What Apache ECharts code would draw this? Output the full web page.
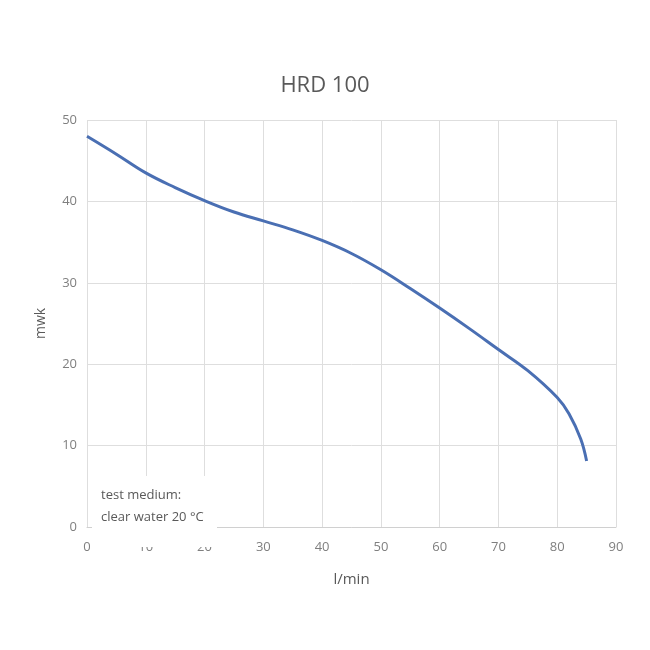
<!DOCTYPE html>
<html>
<head>
<meta charset="utf-8">
<script src="https://cdn.jsdelivr.net/npm/echarts@6/dist/echarts.min.js"></script>
<style>html,body{margin:0;padding:0;background:#fff}#c{width:650px;height:650px}</style>
</head>
<body>
<div id="c"></div>
<script>
var titleText = 'HRD 100';
var xName = 'l/min';
var yName = 'mwk';
var flow = [0, 5, 10, 15, 20, 25, 30, 35, 40, 45, 50, 55, 60, 65, 70, 75, 80, 82, 84, 85];
var head = [48, 45.8, 43.5, 41.7, 40.1, 38.7, 37.6, 36.5, 35.2, 33.6, 31.6, 29.3, 26.9, 24.4, 21.8, 19.2, 15.9, 13.9, 10.8, 8.1];
var noteLines = ['test medium:', 'clear water 20 °C'];

var pts = flow.map(function (f, i) { return [f, head[i]]; });
var font = '"Open Sans", "Noto Sans", sans-serif';
var chart = echarts.init(document.getElementById('c'));
chart.setOption({
  animation: false,
  backgroundColor: '#fff',
  title: {
    text: titleText, left: 'center', top: 70,
    textStyle: { fontFamily: font, fontSize: 22, fontWeight: 'normal', color: '#595959' }
  },
  grid: { left: 87, right: 34, top: 120, bottom: 123 },
  xAxis: {
    type: 'value', min: 0, max: 90, interval: 10,
    name: xName, nameLocation: 'middle', nameGap: 45,
    nameTextStyle: { fontFamily: font, fontSize: 15, color: '#595959' },
    axisLine: { show: true, lineStyle: { color: '#d0d0d0', width: 1 } },
    axisTick: { show: false },
    axisLabel: { fontFamily: font, fontSize: 13, color: '#7f7f7f', margin: 14 },
    splitLine: { show: true, lineStyle: { color: '#dedede', width: 1 } }
  },
  yAxis: {
    type: 'value', min: 0, max: 50, interval: 10,
    name: yName, nameLocation: 'middle', nameGap: 39, nameRotate: 90,
    nameTextStyle: { fontFamily: font, fontSize: 14, color: '#595959' },
    axisLine: { show: false },
    axisTick: { show: false },
    axisLabel: { fontFamily: font, fontSize: 13, color: '#7f7f7f', margin: 10 },
    splitLine: { show: true, lineStyle: { color: '#dedede', width: 1 } }
  },
  series: [{
    type: 'line', data: pts, smooth: 0.4, showSymbol: false, symbol: 'none',
    lineStyle: { color: '#4a6fb3', width: 3 }, z: 3
  }],
  graphic: [
    { type: 'rect', z: 100, shape: { x: 92, y: 476, width: 125, height: 71 }, style: { fill: '#fff' } },
    { type: 'text', z: 101, x: 101, y: 484, style: { text: noteLines.join('\n'), font: '13px ' + font, fill: '#595959', lineHeight: 22 } }
  ]
});
</script>
</body>
</html>
